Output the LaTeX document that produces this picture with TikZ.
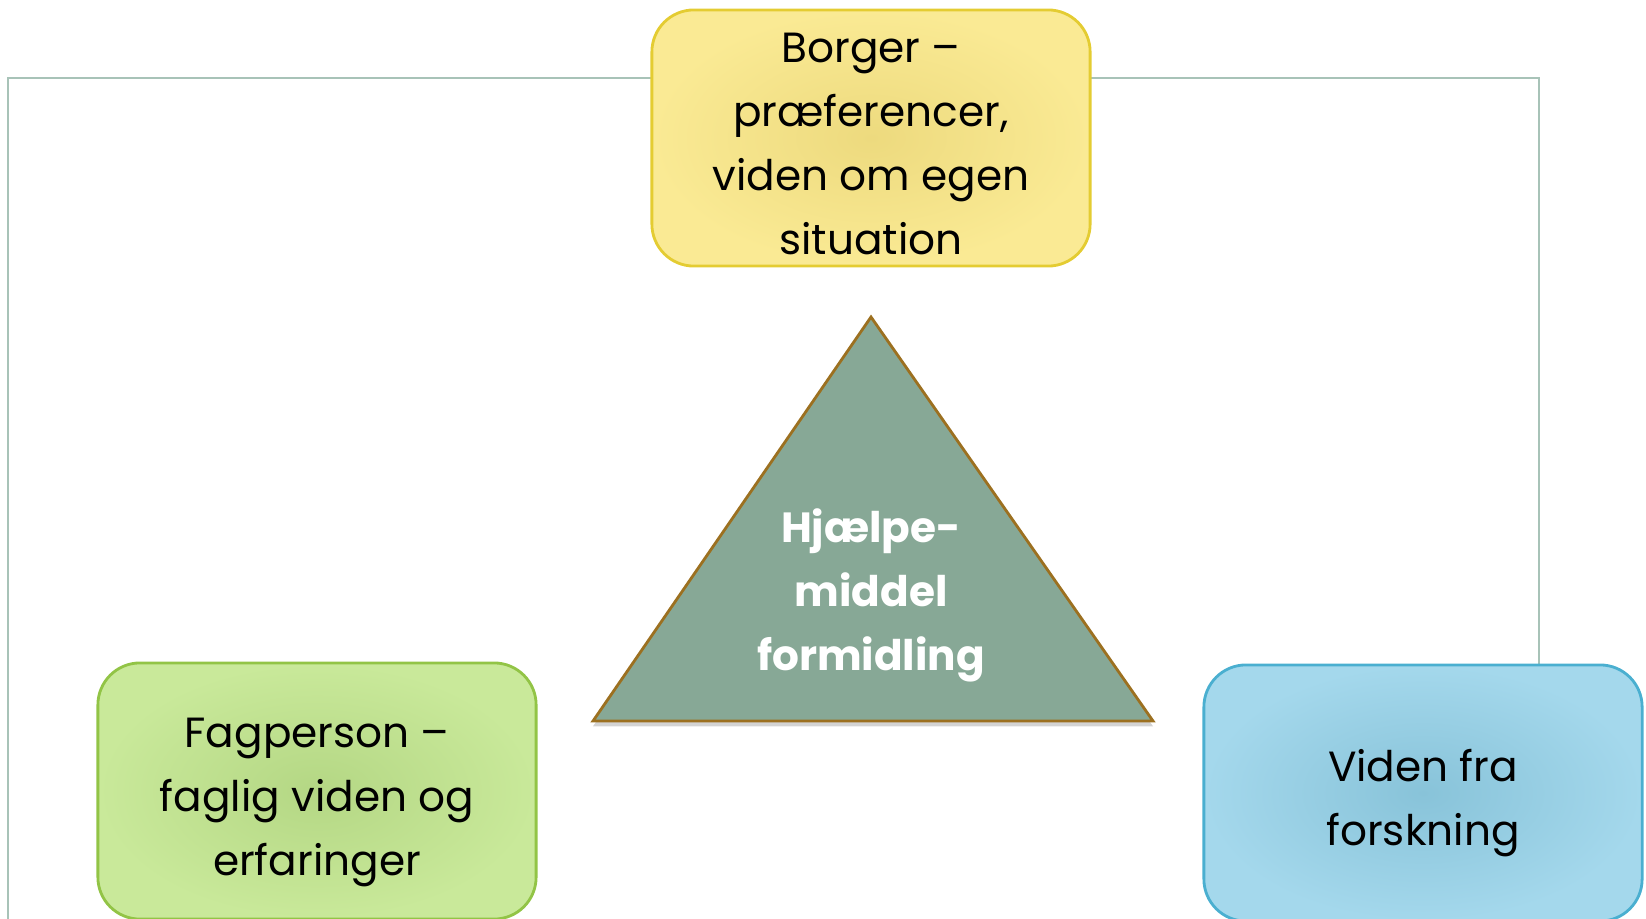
\documentclass[tikz,border=0pt]{standalone}
\usepackage{fontspec}
\setmainfont{Poppins}
\usepackage{tikz}
\usetikzlibrary{positioning,shadows}
\usepackage{xcolor}
\definecolor{hmframe}{RGB}{168,195,184}
\definecolor{hmyellow}{RGB}{250,234,148}
\definecolor{hmyellowin}{RGB}{237,218,126}
\definecolor{hmyellowline}{RGB}{228,204,50}
\definecolor{hmgreen}{RGB}{201,233,154}
\definecolor{hmgreenin}{RGB}{180,215,132}
\definecolor{hmgreenline}{RGB}{146,196,70}
\definecolor{hmblue}{RGB}{164,216,236}
\definecolor{hmbluein}{RGB}{136,195,217}
\definecolor{hmblueline}{RGB}{74,175,208}
\definecolor{hmtri}{RGB}{135,168,150}
\definecolor{hmtriline}{RGB}{156,112,32}
\tikzstyle{infobox} = [rectangle, rounded corners=0.42cm, minimum width=4.38cm, minimum height=2.56cm, line width=0.8pt, shading=radial]
\tikzstyle{infotext} = [align=center, font=\fontsize{12}{18.2}\selectfont]
\tikzstyle{tritext} = [align=center, text=white, font=\fontsize{12}{18.2}\selectfont\bfseries]

\begin{document}
\begin{tikzpicture}[x=0.01cm, y=-0.01cm]
\useasboundingbox (0,0) rectangle (1646,918);
% Frame behind the boxes
\draw[line width=0.8pt, color=hmframe] (8,1000) -- (8,78) -- (1539,78) -- (1539,1000);

% Boxes
\node[infobox, draw=hmyellowline, inner color=hmyellowin, outer color=hmyellow] (borger) at (871,138) {};
\node[infobox, draw=hmgreenline, inner color=hmgreenin, outer color=hmgreen] (fagperson) at (317,791) {};
\node[infobox, draw=hmblueline, inner color=hmbluein, outer color=hmblue] (forskning) at (1423,793) {};

% Texts of the boxes
\node[infotext] (borgertext) at ([yshift=-0.06cm]borger.center) {Borger --\\præferencer,\\viden om egen\\situation};
\node[infotext] (fagtext) at ([yshift=-0.11cm]fagperson.center) {Fagperson --\\faglig viden og\\erfaringer};
\node[infotext] (forsktext) at ([yshift=-0.1cm]forskning.center) {Viden fra\\forskning};

% Triangle in the middle
\coordinate (top) at (871,317);
\coordinate (left) at (593,721);
\coordinate (right) at (1153,721);
\filldraw[fill=hmtri, draw=hmtriline, line width=0.8pt, drop shadow={shadow xshift=0pt, shadow yshift=-1.5pt, opacity=0.35}] (top) -- (left) -- (right) -- cycle;
\node[tritext] (hjaelp) at (871,595) {Hjælpe-\\middel\\formidling};
\end{tikzpicture}
\end{document}
